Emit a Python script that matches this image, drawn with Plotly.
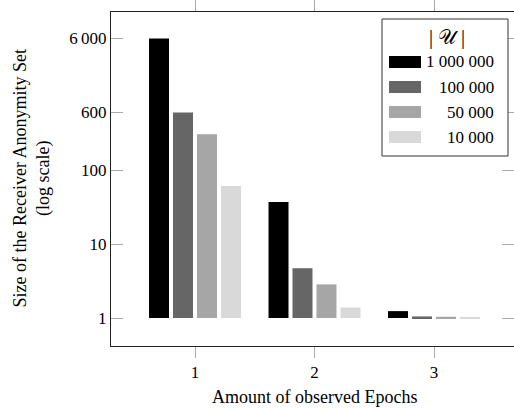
import plotly.graph_objects as go

# ---- data ----
epochs = [1, 2, 3]
series_names = ["1 000 000", "100 000", "50 000", "10 000"]
vals_1m = [6000, 37, 1.24]
vals_100k = [600, 4.7, 1.05]
vals_50k = [305, 2.85, 1.04]
vals_10k = [61, 1.39, 1.03]
series_values = [vals_1m, vals_100k, vals_50k, vals_10k]
colors = ["#000000", "#666666", "#a6a6a6", "#d9d9d9"]
y_tickvals = [1, 10, 100, 600, 6000]
y_ticktext = ["1", "10", "100", "600", "6\u2009000"]
x_tickvals = [1, 2, 3]
bar_base = 1  # bars are drawn up from 1 on the log axis

FONT = "Liberation Serif"

W, H = 514, 408
L, R, T, B = 111, 514, 12, 346  # plot area in px

def px2paper(px, py):
    return (px - L) / (R - L), (B - py) / (B - T)

fig = go.Figure()
for name, vals, col in zip(series_names, series_values, colors):
    fig.add_trace(go.Bar(
        x=epochs, y=[v - bar_base for v in vals], base=bar_base, name=name,
        customdata=vals, hovertemplate="%{customdata}<extra>" + name + "</extra>",
        marker=dict(color=col, line=dict(width=0)),
        showlegend=False,
    ))

ymin, ymax = -0.378, 4.135
x_left = 1 - (195 - L) / 119.5
x_right = x_left + (R - L) / 119.5

fig.update_layout(
    width=W, height=H,
    margin=dict(l=L, r=W - R, t=T, b=H - B, pad=0, autoexpand=False),
    paper_bgcolor="white", plot_bgcolor="white",
    font=dict(family=FONT, size=17, color="black"),
    barmode="group", bargap=0.197, bargroupgap=0.167,
    xaxis=dict(
        range=[x_left, x_right], tickvals=x_tickvals, automargin=False,
        ticks="outside", ticklen=11, tickcolor="#aaaaaa", tickwidth=1,
        showline=True, linecolor="#222222", linewidth=1, mirror="ticks",
        showgrid=False, zeroline=False,
        tickfont=dict(size=17),
    ),
    yaxis=dict(
        type="log", range=[ymin, ymax], tickvals=y_tickvals, ticktext=y_ticktext,
        automargin=False,
        ticks="inside", ticklen=12, tickcolor="#aaaaaa", tickwidth=1,
        showline=True, linecolor="#222222", linewidth=1, mirror="ticks",
        showgrid=False, zeroline=False,
        tickfont=dict(size=17),
    ),
)

shapes = []
annotations = []

# axis titles
xt, yt = px2paper(314, 397)
annotations.append(dict(xref="paper", yref="paper", x=xt, y=yt, text="Amount of observed Epochs",
                        showarrow=False, xanchor="center", yanchor="middle",
                        font=dict(family=FONT, size=18, color="black")))
xt, yt = px2paper(31.5, 179)
annotations.append(dict(xref="paper", yref="paper", x=xt, y=yt,
                        text="Size of the Receiver Anonymity Set<br>(log scale)",
                        showarrow=False, xanchor="center", yanchor="middle", textangle=-90,
                        font=dict(family=FONT, size=18, color="black")))

# ---- custom legend ----
bx0, by0 = px2paper(382, 19)
bx1, by1 = px2paper(508, 156)
shapes.append(dict(type="rect", xref="paper", yref="paper", x0=bx0, y0=by1, x1=bx1, y1=by0,
                   line=dict(color="#333333", width=1), fillcolor="white", layer="above"))
tx, ty = px2paper(447, 38)
annotations.append(dict(xref="paper", yref="paper", x=tx, y=ty, text="| 𝒰 |",
                        showarrow=False, xanchor="center", yanchor="middle",
                        font=dict(family=FONT, size=20, color="black")))
row_y = [62, 87, 112, 137]
for name, col, ry in zip(series_names, colors, row_y):
    sx0, sy0 = px2paper(389, ry - 6)
    sx1, sy1 = px2paper(421, ry + 6)
    shapes.append(dict(type="rect", xref="paper", yref="paper", x0=sx0, y0=sy1, x1=sx1, y1=sy0,
                       line=dict(width=0), fillcolor=col, layer="above"))
    ax, ay = px2paper(496, ry)
    annotations.append(dict(xref="paper", yref="paper", x=ax, y=ay, text=name,
                            showarrow=False, xanchor="right", yanchor="middle",
                            font=dict(family=FONT, size=17, color="black")))
fig.update_layout(shapes=shapes, annotations=annotations)

fig.write_html("out.html", config={"displayModeBar": False},
               post_script="document.body.style.margin='0';document.body.style.overflow='hidden';")
